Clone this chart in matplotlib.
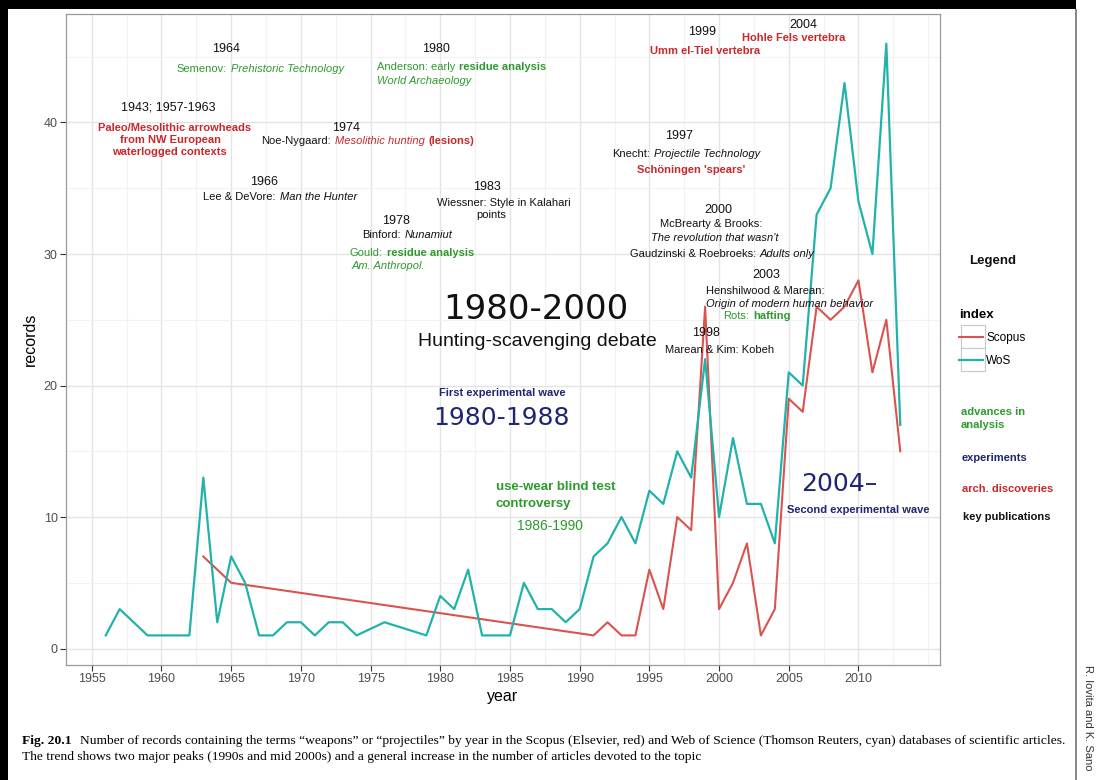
import matplotlib
matplotlib.use('Agg')
import matplotlib.pyplot as plt
from matplotlib.transforms import ScaledTranslation
from matplotlib.patches import Rectangle
from matplotlib.ticker import MultipleLocator

plt.rcParams['font.family'] = ['Liberation Sans', 'DejaVu Sans']

# ---------------- data ----------------
wos_years = [1956, 1957, 1959, 1960, 1961, 1962, 1963, 1964, 1965, 1966, 1967, 1968,
             1969, 1970, 1971, 1972, 1973, 1974, 1976, 1979, 1980, 1981, 1982, 1983,
             1984, 1985, 1986, 1987, 1988, 1989, 1990, 1991, 1992, 1993, 1994, 1995,
             1996, 1997, 1998, 1999, 2000, 2001, 2002, 2003, 2004, 2005, 2006, 2007,
             2008, 2009, 2010, 2011, 2012, 2013]
wos_records = [1, 3, 1, 1, 1, 1, 13, 2, 7, 5, 1, 1,
               2, 2, 1, 2, 2, 1, 2, 1, 4, 3, 6, 1,
               1, 1, 5, 3, 3, 2, 3, 7, 8, 10, 8, 12,
               11, 15, 13, 22, 10, 16, 11, 11, 8, 21, 20, 33,
               35, 43, 34, 30, 46, 17]

scopus_years = [1963, 1965, 1991, 1992, 1993, 1994, 1995, 1996, 1997, 1998, 1999, 2000,
                2001, 2002, 2003, 2004, 2005, 2006, 2007, 2008, 2009, 2010, 2011, 2012, 2013]
scopus_records = [7, 5, 1, 2, 1, 1, 6, 3, 10, 9, 26, 3,
                  5, 8, 1, 3, 19, 18, 26, 25, 26, 28, 21, 25, 15]

x_ticks = [1955, 1960, 1965, 1970, 1975, 1980, 1985, 1990, 1995, 2000, 2005, 2010]
y_ticks = [0, 10, 20, 30, 40]
series_labels = ['Scopus', 'WoS']

# ---------------- style ----------------
RED = '#D9534F'
CYAN = '#22B2AC'
T_GREEN = '#2E9A2E'
T_RED = '#C8282B'
T_NAVY = '#1E2672'
T_BLACK = '#111111'

W, H = 1101, 780
fig = plt.figure(figsize=(W / 100, H / 100), dpi=100)
fig.patch.set_facecolor('white')
ax = fig.add_axes([66 / W, 1 - 665 / H, (940 - 66) / W, (665 - 14) / H])

l1, = ax.plot(scopus_years, scopus_records, color=RED, lw=1.5, label=series_labels[0])
l2, = ax.plot(wos_years, wos_records, color=CYAN, lw=1.6, label=series_labels[1])

allx = wos_years + scopus_years
ally = wos_records + scopus_records
xr = max(allx) - min(allx)
yr = max(ally) - min(ally)
ax.set_xlim(min(allx) - 0.05 * xr, max(allx) + 0.05 * xr)
ax.set_ylim(min(ally) - 0.05 * yr, max(ally) + 0.05 * yr)

ax.set_xticks(x_ticks)
ax.set_yticks(y_ticks)
ax.xaxis.set_minor_locator(MultipleLocator(2.5))
ax.yaxis.set_minor_locator(MultipleLocator(5))
ax.tick_params(which='minor', length=0)
ax.tick_params(which='major', length=4, width=0.8, color='#333333',
               labelsize=9, labelcolor='#4D4D4D', pad=2)
ax.grid(which='major', color='#E4E4E4', lw=1.0)
ax.grid(which='minor', color='#F2F2F2', lw=0.8)
ax.set_axisbelow(True)
for s in ax.spines.values():
    s.set_color('#9A9A9A')
    s.set_linewidth(0.9)
ax.set_xlabel('year', fontsize=11.5, labelpad=3)
ax.set_ylabel('records', fontsize=11.5, labelpad=4)

renderer = fig.canvas.get_renderer()


def P(x, y):
    return x / W, 1 - y / H


SM = 8  # small annotation size


def txt(x, y, s, color=T_BLACK, size=SM, style='normal', weight='normal', ha='center', **kw):
    return fig.text(*P(x, y), s, color=color, fontsize=size, fontstyle=style,
                    fontweight=weight, ha=ha, va='center', **kw)


def rich(x, y, segs, size=SM, ha='center'):
    texts, widths = [], []
    for s, c, st, w in segs:
        t = fig.text(*P(x, y), s, color=c, fontsize=size, fontstyle=st, fontweight=w,
                     ha='left', va='center')
        bb = t.get_window_extent(renderer=renderer)
        texts.append(t)
        widths.append(bb.width)
    gap = 0.36 * size * 100 / 72
    total = sum(widths) + gap * (len(widths) - 1)
    off = -total / 2 if ha == 'center' else 0
    for t, w in zip(texts, widths):
        t.set_transform(fig.transFigure + ScaledTranslation(off / 100, 0, fig.dpi_scale_trans))
        off += w + gap


N, I, B = 'normal', 'italic', 'bold'
YS = 9  # year label size

# 1964
txt(226, 49, '1964', size=YS)
rich(260, 69, [('Semenov:', T_GREEN, N, N), ('Prehistoric Technology', T_GREEN, I, N)])
# 1980
txt(436, 49, '1980', size=YS)
rich(377, 67, [('Anderson: early', T_GREEN, N, N), ('residue analysis', T_GREEN, N, B)], ha='left')
txt(377, 81, 'World Archaeology', color=T_GREEN, style=I, ha='left')
# 1943
txt(168, 108, '1943; 1957-1963', size=YS)
txt(175, 128, 'Paleo/Mesolithic arrowheads', color=T_RED, weight=B)
txt(170, 140, 'from NW European', color=T_RED, weight=B)
txt(169, 152, 'waterlogged contexts', color=T_RED, weight=B)
# 1974
txt(346, 128, '1974', size=YS)
rich(368, 141, [('Noe-Nygaard:', T_BLACK, N, N), ('Mesolithic hunting', T_RED, I, N),
                ('(lesions)', T_RED, N, B)])
# 1966
txt(264, 182, '1966', size=YS)
rich(280, 197, [('Lee & DeVore:', T_BLACK, N, N), ('Man the Hunter', T_BLACK, I, N)])
# 1983
txt(487, 187, '1983', size=YS)
txt(504, 203, 'Wiessner: Style in Kalahari')
txt(491, 215, 'points')
# 1978
txt(396, 221, '1978', size=YS)
rich(407, 235, [('Binford:', T_BLACK, N, N), ('Nunamiut', T_BLACK, I, N)])
rich(350, 253, [('Gould:', T_GREEN, N, N), ('residue analysis', T_GREEN, N, B)], ha='left')
txt(352, 266, 'Am. Anthropol.', color=T_GREEN, style=I, ha='left')
# 1999 / 2004
txt(702, 32, '1999', size=YS)
txt(705, 51, 'Umm el-Tiel vertebra', color=T_RED, weight=B)
txt(803, 25, '2004', size=YS)
txt(794, 38, 'Hohle Fels vertebra', color=T_RED, weight=B)
# 1997
txt(679, 136, '1997', size=YS)
rich(686, 154, [('Knecht:', T_BLACK, N, N), ('Projectile Technology', T_BLACK, I, N)])
txt(691, 170, "Schöningen 'spears'", color=T_RED, weight=B)
# 2000
txt(718, 210, '2000', size=YS)
txt(711, 224, 'McBrearty & Brooks:')
txt(715, 238, "The revolution that wasn't", style=I)
rich(722, 254, [('Gaudzinski & Roebroeks:', T_BLACK, N, N), ('Adults only', T_BLACK, I, N)])
# 2003
txt(766, 275, '2003', size=YS)
txt(765, 291, 'Henshilwood & Marean:')
txt(790, 304, 'Origin of modern human behavior', style=I)
rich(757, 316, [('Rots:', T_GREEN, N, N), ('hafting', T_GREEN, N, B)])
# 1998
txt(706, 333, '1998', size=YS)
txt(720, 350, 'Marean & Kim: Kobeh')

# Big period labels
txt(536, 310, '1980-2000', size=24.5, family='DejaVu Sans')
txt(537, 341, 'Hunting-scavenging debate', size=14)
txt(502, 393, 'First experimental wave', color=T_NAVY, weight=B, size=8)
txt(501, 418, '1980-1988', color=T_NAVY, size=18, family='DejaVu Sans')
txt(496, 487, 'use-wear blind test', color=T_GREEN, weight=B, size=9.5, ha='left')
txt(496, 504, 'controversy', color=T_GREEN, weight=B, size=9.5, ha='left')
txt(550, 526, '1986-1990', color=T_GREEN, size=10)
txt(801, 484, '2004–', color=T_NAVY, size=18, family='DejaVu Sans', ha='left')
txt(858, 510, 'Second experimental wave', color=T_NAVY, weight=B, size=8)

# Legend area
txt(993, 261, 'Legend', weight=B, size=9.5)
for top in (325, 348):
    fig.add_artist(Rectangle(P(961, top + 23), 24 / W, 23 / H, transform=fig.transFigure,
                             facecolor='white', edgecolor='#C8C8C8', lw=0.8, zorder=1))
leg = fig.legend([l1, l2], series_labels, title='index', loc='upper left',
                 bbox_to_anchor=(959 / W, 1 - 309 / H), frameon=False, fontsize=8.5,
                 title_fontproperties={'weight': 'bold', 'size': 9.5}, alignment='left',
                 handlelength=2.0, handletextpad=0.3, labelspacing=0.95,
                 borderpad=0, borderaxespad=0)
leg.set_zorder(3)
txt(961, 412, 'advances in', color=T_GREEN, weight=B, size=SM, ha='left')
txt(961, 425, 'analysis', color=T_GREEN, weight=B, size=SM, ha='left')
txt(962, 458, 'experiments', color=T_NAVY, weight=B, size=SM, ha='left')
txt(962, 489, 'arch. discoveries', color=T_RED, weight=B, size=SM, ha='left')
txt(963, 517, 'key publications', color=T_BLACK, weight=B, size=SM, ha='left')

# Caption
cap_font = ['Liberation Serif', 'DejaVu Serif']
CS = 9.7
c1 = fig.text(*P(22, 741), 'Fig. 20.1', fontsize=CS, fontweight='bold', family=cap_font,
              ha='left', va='center')
bb = c1.get_window_extent(renderer=renderer)
fig.text(*P(22 + bb.width + 8, 741),
         'Number of records containing the terms \u201cweapons\u201d or \u201cprojectiles\u201d by year in the '
         'Scopus (Elsevier, red) and Web of Science (Thomson Reuters, cyan) databases of scientific articles.',
         fontsize=CS, family=cap_font, ha='left', va='center')
fig.text(*P(22, 757),
         'The trend shows two major peaks (1990s and mid 2000s) and a general increase in the number '
         'of articles devoted to the topic',
         fontsize=CS, family=cap_font, ha='left', va='center')

# page decorations
fig.add_artist(Rectangle((0, 1 - 9 / H), 1076 / W, 9 / H, transform=fig.transFigure,
                         color='black', lw=0))
fig.add_artist(Rectangle((0, 0), 8 / W, 1, transform=fig.transFigure, color='black', lw=0))
fig.add_artist(Rectangle((1075 / W, 0), 1.5 / W, 1 - 9 / H, transform=fig.transFigure,
                         color='#8A8A8A', lw=0))
fig.text(*P(1088, 718), 'R. Iovita and K. Sano', rotation=-90, fontsize=8,
         ha='center', va='center', color='#333333')

fig.savefig('out.png', dpi=100)
